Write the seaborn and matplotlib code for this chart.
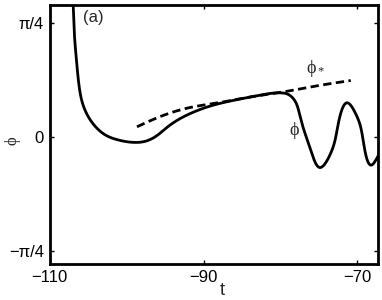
import numpy as np
import pandas as pd
import matplotlib
matplotlib.use("Agg")
import matplotlib.pyplot as plt
import seaborn as sns

# phi(t)
t_phi = [-107.1, -106.94, -106.8, -106.5, -106.17, -105.74, -105.10, -104.03, -102.74,
         -101.0, -99.29, -97.5, -96.2, -94.77, -93.48, -92.19, -90.9, -89.2,
         -85.96, -82.56, -79.96, -79.06, -77.96, -77.56, -76.96, -76.06, -74.86,
         -73.46, -72.46, -71.26, -70.26, -69.26, -68.06, -67.46, -67.1]
phi = [1.05, 0.91, 0.72, 0.52, 0.35, 0.235, 0.152, 0.071, 0.014,
       -0.021, -0.036, -0.028, 0.005, 0.066, 0.114, 0.151, 0.181, 0.213,
       0.255, 0.29, 0.305, 0.296, 0.234, 0.165, 0.05, -0.09, -0.21,
       -0.11, 0.10, 0.236, 0.165, -0.02, -0.19, -0.145, -0.11]

# phi_*(t) dashed
t_star = [-98.65, -95.7, -91.3, -88.6, -83.76, -79.56, -76.06, -70.86]
phi_star = [0.071, 0.14, 0.209, 0.232, 0.278, 0.312, 0.346, 0.39]

xticks = [-110, -90, -70]
xtick_labels = ["\u2212110", "\u221290", "\u221270"]
yticks = [-np.pi / 4, 0, np.pi / 4]
ytick_labels = ["\u2212\u03c0/4", "0", "\u03c0/4"]

sns.set_style("ticks")
plt.rcParams["font.family"] = ["Liberation Sans", "DejaVu Sans"]
plt.rcParams["mathtext.fontset"] = "custom"
plt.rcParams["mathtext.rm"] = "Liberation Serif"
plt.rcParams["mathtext.it"] = "Liberation Serif"

fig = plt.figure(figsize=(3.82, 3.0), dpi=100)
ax = fig.add_axes([0.13, 0.12, 0.86, 0.863])


def natural_spline(s, y, ss):
    n = len(s)
    h = np.diff(s)
    A = np.zeros((n, n))
    b = np.zeros(n)
    A[0, 0] = A[-1, -1] = 1
    for i in range(1, n - 1):
        A[i, i - 1] = h[i - 1]
        A[i, i] = 2 * (h[i - 1] + h[i])
        A[i, i + 1] = h[i]
        b[i] = 3 * ((y[i + 1] - y[i]) / h[i] - (y[i] - y[i - 1]) / h[i - 1])
    c = np.linalg.solve(A, b)
    bb = (np.diff(y) / h) - h * (2 * c[:-1] + c[1:]) / 3
    d = np.diff(c) / (3 * h)
    idx = np.clip(np.searchsorted(s, ss) - 1, 0, n - 2)
    dx = ss - s[idx]
    return y[idx] + bb[idx] * dx + c[idx] * dx**2 + d[idx] * dx**3


def smooth(tx, ty, n=600):
    tx = np.asarray(tx, float)
    ty = np.asarray(ty, float)
    px, py = tx * 7.75, ty * 145.0
    s = np.concatenate([[0], np.cumsum(np.hypot(np.diff(px), np.diff(py)))])
    ss = np.linspace(0, s[-1], n)
    return natural_spline(s, tx, ss), natural_spline(s, ty, ss)


xs, ys = smooth(t_phi, phi)
xs2, ys2 = smooth(t_star, phi_star, 200)
df1 = pd.DataFrame({"t": xs, "v": ys})
df2 = pd.DataFrame({"t": xs2, "v": ys2})

sns.lineplot(data=df1, x="t", y="v", ax=ax, color="black", lw=2.0, estimator=None, sort=False)
sns.lineplot(data=df2, x="t", y="v", ax=ax, color="black", lw=2.0, estimator=None, sort=False,
             linestyle=(0, (3, 1.6)))

ax.set_xlim(-109.7, -67.3)
ax.set_ylim(-0.875, 0.91)
ax.set_xticks(xticks)
ax.set_xticklabels(xtick_labels, fontsize=12)
ax.set_yticks(yticks)
ax.set_yticklabels(ytick_labels, fontsize=12)
ax.tick_params(direction="in", length=3, width=1, top=True, right=True, pad=4, colors="black")
for sp in ax.spines.values():
    sp.set_linewidth(2)
    sp.set_color("black")

ax.set_xlabel("t", fontsize=13)
ax.xaxis.set_label_coords(0.525, -0.07)
ax.set_ylabel("$\\mathrm{\u03d5}$", fontsize=12)
ax.yaxis.set_label_coords(-0.08, 0.475)

ax.text(0.133, 0.952, "(a)", transform=ax.transAxes, fontsize=12, ha="center", va="center")
ax.text(-75.4, 0.47, "$\\mathrm{\u03d5_*}$", fontsize=13, ha="center", va="center")
ax.text(-78.2, 0.045, "$\\mathrm{\u03d5}$", fontsize=13, ha="center", va="center")

fig.savefig("out.png", dpi=100)
